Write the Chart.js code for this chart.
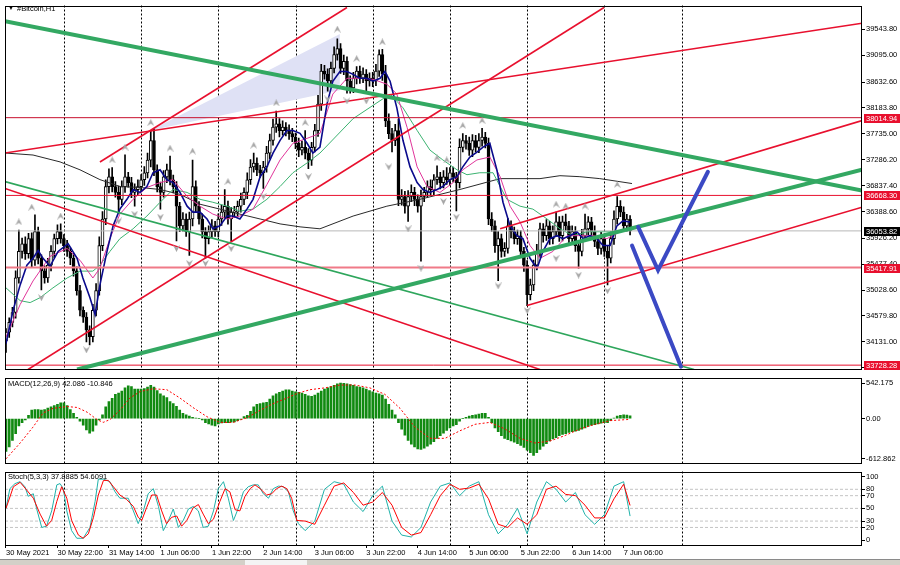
<!DOCTYPE html>
<html>
<head>
<meta charset="utf-8">
<script src="https://cdn.jsdelivr.net/npm/chart.js@4.4.1/dist/chart.umd.min.js"></script>
<style>
  body { margin: 0; background: #fff; width: 900px; height: 565px; overflow: hidden; position: relative;
         font-family: "Liberation Sans", Arial, sans-serif; }
  canvas { position: absolute; left: 0; }
  .ttl { position: absolute; font-size: 7.5px; line-height: 9px; color: #000; white-space: nowrap; }
  .strip { position: absolute; left: 0; top: 559px; width: 900px; height: 6px; background: #d4d0c8; border-top: 1px solid #8a8a8a; }
  .tab { position: absolute; left: 245px; top: 560px; width: 62px; height: 5px; background: #f4f4f4; }
</style>
</head>
<body>
<canvas id="main" width="900" height="375" style="top:0"></canvas>
<canvas id="macd" width="900" height="97" style="top:372px"></canvas>
<canvas id="stoch" width="900" height="92" style="top:466px"></canvas>
<div class="ttl" style="left:8px;top:4px;font-size:6px">▼</div>
<div class="ttl" style="left:17px;top:4px">#Bitcoin,H1</div>
<div class="ttl" style="left:8px;top:379px">MACD(12,26,9) 42.086 -10.846</div>
<div class="ttl" style="left:8px;top:472px">Stoch(5,3,3) 37.8885 54.6091</div>
<div class="strip"></div><div class="tab"></div>

<script>
// ---- bars: H1, 30 May 2021 06:00 is bar 0 ----
const timeLabels = ["30 May 2021", "30 May 22:00", "31 May 14:00", "1 Jun 06:00", "1 Jun 22:00", "2 Jun 14:00",
  "3 Jun 06:00", "3 Jun 22:00", "4 Jun 14:00", "5 Jun 06:00", "5 Jun 22:00", "6 Jun 14:00", "7 Jun 06:00"];
const labelIdx = [0, 16, 32, 48, 64, 80, 96, 112, 128, 144, 160, 176, 192];
const midnights = [18, 42, 66, 90, 114, 138, 162, 186, 210];

const firstOpen = 34150;
const closes = [
  34300,34470,34640,35240,35700,35830,35660,35920,35545,36040,
  35580,35360,35240,35460,35700,35920,36040,35920,35800,35700,
  35580,35360,35020,34680,34560,34340,34220,34680,35020,35800,
  36260,36820,36990,36820,36720,36600,36820,36990,36890,36720,
  36770,36820,36940,37060,37280,37620,37110,36820,36720,36990,
  37110,36940,36820,36480,36140,36260,36040,36260,36820,36480,
  36260,36040,35920,36040,36140,36040,36260,36380,36480,36260,
  36380,36380,36480,36600,36720,36940,37160,37230,37110,37060,
  37160,37400,37620,37850,37910,37790,37850,37790,37740,37680,
  37570,37450,37500,37400,37280,37500,37790,38250,38820,38770,
  38650,38870,39110,39210,38870,38990,38650,38530,38700,38820,
  38700,38770,38650,38700,38650,38820,39110,38770,37960,37740,
  37620,37790,36600,36650,36480,36650,36720,36600,36480,36650,
  36720,36820,36770,36940,36990,36890,36990,36940,37060,36990,
  36890,37500,37620,37570,37450,37620,37500,37620,37680,37570,
  36260,36140,35800,35920,35700,35750,36140,36040,35920,35970,
  35700,35460,34950,35120,35460,35700,36090,35970,36140,35920,
  36040,36210,35970,36210,36140,35920,36040,35800,35700,35970,
  36090,36210,36040,35870,35750,35920,35700,35580,35920,36260,
  36480,36380,36140,36260,36053.82];
// wick lengths above / below the body
const upWick = [
  60,80,90,120,370,100,120,90,100,290, 80,60,90,120,100,80,120,135,70,90,
  60,80,70,90,60,80,70,100,120,150, 130,120,140,160,90,110,100,380,80,90,
  100,120,90,110,120,170,200,90,80,110, 100,240,80,90,70,110,90,120,460,100,
  80,90,70,100,110,80,90,120,290,90, 80,100,90,110,80,120,130,170,90,80,
  100,120,110,140,220,90,110,80,100,90, 70,90,110,290,80,90,110,150,120,100,
  90,110,130,170,90,110,80,90,100,80, 90,110,80,90,100,120,80,90,150,120,
  90,110,200,120,90,100,130,90,80,110, 90,100,120,90,190,80,110,160,90,100,
  80,150,120,90,110,100,90,120,150,80, 90,110,90,120,80,100,130,90,80,100,
  90,70,80,100,90,120,100,90,110,80, 100,170,90,100,135,80,100,90,80,110,
  255,90,80,100,90,110,80,90,120,140, 170,100,90,80,60];
const dnWick = [
  200,90,80,100,90,120,100,80,110,90, 100,330,90,80,100,110,90,80,100,90,
  110,90,80,100,90,210,140,90,100,80, 90,100,110,90,80,240,90,100,80,90,
  240,90,80,100,90,120,100,90,290,80, 100,90,110,600,100,90,80,410,120,100,
  90,110,340,90,100,80,90,110,100,90, 375,90,80,100,90,110,80,90,100,80,
  270,90,100,80,90,110,80,90,100,80, 90,110,80,100,150,90,80,100,110,90,
  175,90,80,100,90,110,210,90,80,100, 90,80,210,90,100,80,90,110,100,90,
  200,90,110,100,120,260,90,110,100,950, 90,80,100,90,80,110,90,80,100,90,
  490,90,80,100,90,110,80,90,100,80, 100,90,120,610,100,90,80,110,90,100,
  90,110,190,90,100,80,90,110,80,100, 90,80,100,90,80,110,90,100,290,80,
  90,100,80,90,110,100,90,460,80,100, 90,80,100,90,70];

// moving averages: [bar, price]
const maBlue = [[0,34100],[2.2,34675],[4.4,35119],[6.5,35459],[8.4,35579],[10,35715],[11.5,35579],[13.7,35442],
  [16.2,35698],[19.3,35834],[22.1,35579],[23.9,35238],[26.1,34897],[27.7,34607],[29.2,35119],[31.4,35698],
  [33.3,36141],[35.4,36431],[37.6,36601],[39.5,36771],[41.7,36720],[43.8,36823],[45.7,37061],[47.9,37112],
  [50,36942],[51.9,36891],[54.1,36720],[56.3,36482],[58.1,36379],[60.3,36379],[62.5,36260],[64.3,36090],
  [66.5,36141],[68.7,36311],[70.6,36311],[72.7,36260],[74.9,36431],[76.8,36601],[79,36993],[81.1,37163],
  [83,37402],[85.2,37623],[87.3,37794],[89.2,37794],[91.4,37743],[93.6,37572],[95.4,37402],[97.6,37504],
  [99.8,38254],[101.6,38646],[103.8,38816],[106,38816],[107.9,38765],[110,38697],[112.2,38697],[114.1,38646],
  [116.3,38697],[117.8,38816],[119.4,38646],[121.5,38186],[123.4,37623],[125.6,37163],[127.8,36891],[129.6,36771],
  [131.8,36720],[134,36771],[135.8,36823],[138,36942],[140.2,36993],[142,37163],[144.2,37334],[146.4,37419],
  [148.3,37504],[150.4,37572],[152.6,37112],[154.5,36550],[156.7,36141],[158.8,35971],[160.7,35919],[162.9,35579],
  [165.1,35408],[166.9,35698],[169.1,35919],[171.3,35971],[173.1,35919],[175.3,35971],[177.5,36039],[179.4,35919],
  [181.5,35971],[183.7,35919],[185.6,35800],[187.8,35800],[189.9,36141],[191.8,36226],[194,36209]];
const maPink = [[0,34215],[4.4,34778],[8.4,35187],[13.7,35613],[19,35749],[23,35545],[27,35238],[29.2,35408],
  [32.3,35919],[35.4,36345],[39.5,36601],[43.8,36806],[47.9,36891],[51.9,36942],[56.3,36652],[60.3,36482],
  [64.3,36345],[68.7,36260],[72.7,36311],[76.8,36431],[81.1,36857],[85.2,37283],[89.2,37572],[93.6,37657],
  [97.6,37743],[101.6,38424],[106,38697],[110,38697],[114.1,38680],[118.4,38595],[121.5,38424],[124.7,37845],
  [127.8,37163],[130.9,36823],[134.9,36720],[139,36891],[142,37112],[146.4,37283],[150.4,37334],[153.6,36993],
  [156.7,36482],[159.8,36209],[162.9,35800],[166,35579],[170,35698],[174.4,35971],[178.4,35971],[182.5,35971],
  [186.8,35919],[190.9,36039],[194,36090]];
const maGreen = [[0,35067],[4.4,34846],[7.5,34812],[10.6,34897],[14.6,35067],[19,35238],[23,35357],[27,35357],
  [29.2,35459],[32.3,35698],[35.4,35919],[39.5,36090],[43.8,36311],[47.9,36550],[51.9,36771],[56.3,36720],
  [60.3,36601],[64.3,36550],[68.7,36482],[72.7,36396],[76.8,36431],[81.1,36601],[85.2,36823],[89.2,37061],
  [93.6,37231],[97.6,37402],[107.9,37998],[119.4,38424],[123.4,38186],[127.8,37794],[131.8,37453],[135.8,37283],
  [140.2,37112],[143.3,37027],[147.3,37061],[151.4,37061],[155.7,36601],[159.8,36482],[163.8,36431],[168.2,36260],
  [172.2,36090],[176.3,35971],[180.6,36039],[184.6,36039],[188.7,36039],[194,36090]];
const maBlack = [[0,37402],[8.4,37368],[16.8,37249],[23,37112],[29.2,36942],[35.4,36823],[41.7,36806],[47.9,36771],
  [54.1,36686],[60.3,36516],[66.5,36431],[72.7,36345],[79,36260],[85.2,36175],[91.4,36124],[97.6,36090],
  [107.9,36311],[118.4,36482],[128.7,36601],[141.1,36771],[153.6,36959],[166,36959],[172.2,37010],[178.4,36993],
  [184.6,36959],[194.6,36874]];

// fractals: [bar, price]
const fractalUp = [[4,36210],[8,36465],[17,36311],[33,37283],[37,37504],[45,37930],[51,37487],[58,37436],[69,36908],
  [77,37538],[84,38271],[93,37930],[103,39549],[109,39038],[117,39327],[134,37317],[137,37283],[142,37879],
  [148,37964],[171,36516],[174,36482],[180,36482],[190,36857]];
const fractalDn = [[11,34897],[25,33994],[35,36226],[40,36345],[48,36294],[53,35749],[57,35493],[62,35493],[70,35749],
  [80,36652],[94,36993],[100,38339],[106,38305],[112,38305],[119,37163],[125,36090],[129,35408],[136,36567],
  [140,36294],[153,35101],[162,34676],[171,35579],[178,35289],[187,35016]];

// drawn objects: [bar, price] end points
const greenThick = [[[-0.31,39685],[266.1,36754]], [[22.1,33653],[266.1,37112]]];
const greenThin = [[[-0.31,36908],[213.9,33653]]];
const redLines = [[[-0.31,36788],[166,33653]], [[6.84,33653],[185.9,39924]], [[29.2,37248],[106,39924]],
  [[-0.31,37402],[266.1,39651]], [[153.6,36090],[266.1,37964]], [[162,34761],[266.1,36465]]];
const blueArrows = [[[196.5,36124],[202.7,35374],[218.2,37078]], [[194.6,35800],[209.8,33704]]];
const shadeTop = [[44.8,37794],[103.8,39464]];
const shadeBottom = [[44.8,37794],[103.8,38492]];
const levelLines = [38014.94, 36668.30, 35417.91, 33728.28];
const bidLine = 36053.82;
const priceTicks = [39543.8, 39095.0, 38632.6, 38183.8, 37735.0, 37286.2, 36837.4, 36388.6, 35926.2,
  35477.4, 35028.6, 34579.8, 34131.0, 33682.2];

// MACD main (histogram) per bar, signal read as [bar, value]
const macdMain = [
  -500,-430,-330,-230,-110,-60,-20,50,130,140, 140,130,140,160,180,200,220,240,240,200,
  140,80,20,-40,-100,-170,-220,-190,-100,-20,
  60,180,260,310,370,390,420,470,500,490, 450,450,450,460,480,510,480,430,380,350,
  320,260,230,190,130,80,60,40,20,10, 0,-20,-60,-80,-100,-110,-80,-65,-60,-60,
  -55,-50,-30,-10,30,50,110,180,220,230, 240,250,300,350,380,400,420,440,440,420,
  410,400,
  390,370,350,340,360,390,420,450,470,490, 510,530,542,540,530,520,510,490,480,470,
  450,430,410,390,380,360,300,220,130,60, -60,-160,-250,-330,-390,-430,-460,-470,-450,-420,
  -390,-350,-300,-260,-220,-180,-140,-110,-90,-40, 0,20,40,50,60,70,80,80,20,-60,
  -140,-200,-260,-300,-320,-340,-360,-380,-410,-440, -480,-520,-560,-520,-470,-420,-380,-340,-310,-290,
  -260,-240,-230,-210,-200,-190,-180,-160,-140,-120, -100,-90,-80,-70,-60,-60,-30,10,40,50,
  60,55,42.086];
const macdSignal = [[0,-612.862],[4.4,-371],[8.4,-128],[11.5,86],[14.6,157],[19,185],[22.1,171],[25.2,100],
  [28.3,-14],[30.2,-57],[32.3,-14],[35.4,128],[38.5,314],[41.7,414],[45.7,456],[50,442],[54.1,314],[58.1,171],
  [62.5,29],[66.5,-57],[70.6,-57],[74.9,14],[79,128],[83,228],[87.3,314],[90.5,385],[94.5,442],[99.2,470],
  [103.8,513],[108.5,513],[113.1,470],[117.8,371],[122.5,157],[127.1,-128],[131.8,-300],[136.5,-300],
  [141.1,-185],[145.8,-86],[150.4,-57],[155.1,-157],[159.8,-300],[164.4,-371],[169.1,-342],[173.8,-257],
  [178.4,-157],[183.1,-86],[187.8,-30],[194,-10.846]];
const macdTicks = [542.175, 0, -612.862];
const macdTickText = ["542.175", "0.00", "-612.862"];

// Stochastic %K / %D as [bar, value]
const stochK = [[0,50],[1.2,81],[2.8,89],[4.4,92],[5.9,84],[6.9,69],[8.5,73],[9.5,50],[11.1,20],[12.6,22],[14.2,46],
  [15.8,87],[16.8,89],[17.8,81],[18.9,46],[20.4,15],[22,3],[24,3],[26.1,20],[27.7,61],[28.7,96],[30.3,96],[32.3,92],
  [33.9,76],[35.4,66],[38,66],[39.6,46],[41.1,26],[42.7,46],[44.2,73],[45.8,81],[47.4,53],[48.9,15],[50.5,31],
  [52,49],[53.6,20],[55.1,31],[56.7,49],[58.2,53],[59.8,46],[61.3,20],[62.9,22],[64.5,46],[66,81],[67.6,92],
  [69.1,66],[70.7,31],[72.2,50],[73.8,76],[75.3,84],[76.9,87],[78.4,87],[80,73],[81.6,66],[83.1,81],[84.7,85],
  [86.2,84],[87.8,76],[89.3,46],[90.9,26],[93,15],[96,30],[99,80],[102,92],[105,88],[108,60],[111,45],[114,70],
  [117,85],[120,30],[123,8],[126,5],[129,20],[132,60],[135,85],[138,90],[141,70],[144,85],[147,92],[150,40],
  [153,10],[156,25],[159,50],[162,10],[165,60],[168,92],[171,80],[174,60],[177,75],[180,40],[183,25],[186,40],
  [189,85],[192,92],[194,37.8885]];
const stochD = [[0,50],[2.3,84],[4.4,91],[6.4,79],[8.5,66],[10.6,41],[12.6,22],[14.2,31],[15.8,61],[17.3,84],
  [18.9,66],[20.4,31],[22.5,8],[24,3],[25.6,10],[27.2,36],[28.7,71],[30.3,94],[31.8,94],[33.4,84],[35.4,71],
  [37.5,64],[39.6,53],[41.1,36],[42.2,31],[43.7,51],[45.3,71],[46.8,71],[48.4,46],[49.9,26],[51.5,36],[53.1,38],
  [54.6,22],[56.2,31],[58.2,51],[59.8,56],[61.3,41],[62.9,26],[64.5,33],[66.5,61],[68.1,81],[69.6,76],[71.2,48],
  [72.7,46],[74.3,69],[75.9,81],[77.4,87],[79,81],[81,71],[82.6,73],[84.1,81],[85.7,85],[87.3,81],[88.8,66],
  [90.4,31],[93,30],[96,25],[99,55],[102,85],[105,90],[108,75],[111,55],[114,60],[117,75],[120,55],[123,20],
  [126,8],[129,12],[132,40],[135,70],[138,88],[141,80],[144,82],[147,88],[150,65],[153,25],[156,20],[159,35],
  [162,25],[165,40],[168,80],[171,85],[174,72],[177,70],[180,55],[183,35],[186,35],[189,65],[192,88],[194,54.6091]];
const stochLevels = [80, 70, 50, 30, 20];
const stochTicks = [100, 80, 70, 50, 30, 20, 0];

// ---------------------------------------------------------------
const xMin = -0.31, xMax = 266.1;
const FONT = '"Liberation Sans", Arial, sans-serif';
Chart.defaults.font.family = FONT;
Chart.defaults.font.size = 7.5;
Chart.defaults.color = "#000";

const opens = closes.map((c, i) => i === 0 ? firstOpen : closes[i - 1]);
const highs = closes.map((c, i) => Math.max(c, opens[i]) + upWick[i]);
const lows = closes.map((c, i) => Math.min(c, opens[i]) - dnWick[i]);
const pts = arr => arr.map(p => ({ x: p[0], y: p[1] }));

function line(points, color, width, order, extra) {
  return Object.assign({ type: "line", data: pts(points), borderColor: color, borderWidth: width,
    pointRadius: 0, fill: false, tension: 0, order: order }, extra || {});
}

function chevron(up) {
  const c = document.createElement("canvas");
  c.width = 7; c.height = 7;
  const g = c.getContext("2d");
  g.fillStyle = "#a6a6a6";
  g.beginPath();
  if (up) { g.moveTo(0, 7); g.lineTo(3.5, 0); g.lineTo(7, 7); g.lineTo(3.5, 4.5); }
  else { g.moveTo(0, 0); g.lineTo(3.5, 7); g.lineTo(7, 0); g.lineTo(3.5, 2.5); }
  g.closePath(); g.fill();
  return c;
}

// dotted day separators and the panel frame
const frame = {
  id: "frame",
  beforeDatasetsDraw(chart) {
    const { ctx, chartArea: a, scales: { x } } = chart;
    ctx.save();
    ctx.strokeStyle = "#000"; ctx.lineWidth = 1; ctx.setLineDash([2, 2]);
    midnights.forEach(i => {
      const px = Math.round(x.getPixelForValue(i)) + 0.5;
      ctx.beginPath(); ctx.moveTo(px, a.top); ctx.lineTo(px, a.bottom); ctx.stroke();
    });
    ctx.restore();
  },
  afterDraw(chart) {
    const { ctx, chartArea: a } = chart;
    ctx.save();
    ctx.strokeStyle = "#000"; ctx.lineWidth = 1;
    ctx.strokeRect(Math.round(a.left) + 0.5, Math.round(a.top) + 0.5, Math.round(a.width) - 1, Math.round(a.height) - 1);
    ctx.restore();
  }
};

// price boxes on the right axis
const markColors = ["#e8102e", "#e8102e", "#e8102e", "#e8102e"];
const priceBoxes = {
  id: "priceBoxes",
  afterDraw(chart) {
    const { ctx, chartArea: a, scales: { y } } = chart;
    ctx.save();
    ctx.font = "7.5px " + FONT; ctx.textBaseline = "middle";
    const box = (v, bg) => {
      const py = Math.round(y.getPixelForValue(v));
      ctx.fillStyle = bg; ctx.fillRect(a.right + 2, py - 4, 36, 9);
      ctx.fillStyle = "#fff"; ctx.fillText(v.toFixed(2), a.right + 4, py + 0.5);
    };
    levelLines.forEach((v, k) => box(v, markColors[k]));
    box(bidLine, "#000");
    ctx.restore();
  }
};

const common = (padTop, padBottom) => ({
  responsive: false, animation: false, devicePixelRatio: 1,
  layout: { padding: { left: 5, right: 0, top: padTop, bottom: padBottom } },
  plugins: { legend: { display: false }, tooltip: { enabled: false } },
  events: []
});

const yAxis = (min, max, ticks, fmt) => ({
  position: "right", min: min, max: max,
  afterFit(s) { s.width = 38; },
  afterBuildTicks(s) { s.ticks = ticks.map(v => ({ value: v })); },
  ticks: { color: "#000", padding: 1, autoSkip: false, callback: fmt, font: { size: 7.5 } },
  grid: { drawOnChartArea: false, tickLength: 3, color: "#000" },
  border: { display: false }
});

const hiddenX = { type: "linear", min: xMin, max: xMax, display: false, offset: false, grid: { offset: false } };

// ---------------- main price panel ----------------
const mainSets = [
  line(shadeTop, "rgba(0,0,0,0)", 0, 100, { fill: "+1", backgroundColor: "#dfe1f5" }),
  line(shadeBottom, "rgba(0,0,0,0)", 0, 101),
  { type: "bar", order: 70, grouped: false, barThickness: 1, backgroundColor: "#000", borderWidth: 0,
    data: closes.map((c, i) => ({ x: i, y: [lows[i], highs[i]] })) },
  { type: "bar", order: 60, grouped: false, barThickness: 3, borderColor: "#000", borderWidth: 1,
    borderSkipped: false, minBarLength: 1,
    backgroundColor: closes.map((c, i) => c >= opens[i] ? "#fff" : "#000"),
    data: closes.map((c, i) => ({ x: i, y: [opens[i], c] })) },
  line(maBlack, "#2a2a2a", 1, 55),
  line(maGreen, "#3cb371", 1, 54),
  line(maPink, "#e0359a", 1, 53),
  line(maBlue, "#0a0a8c", 1.6, 52),
  line([[xMin, levelLines[0]], [xMax, levelLines[0]]], "#c8102e", 1, 45),
  line([[xMin, levelLines[1]], [xMax, levelLines[1]]], "#e8102e", 1, 45),
  line([[xMin, levelLines[2]], [xMax, levelLines[2]]], "#f07a88", 2, 45),
  line([[xMin, levelLines[3]], [xMax, levelLines[3]]], "#e8102e", 1, 45),
  line([[xMin, bidLine], [xMax, bidLine]], "#b8b8b8", 1, 46),
  ...redLines.map(l => line(l, "#e8102e", 1.6, 30)),
  ...greenThin.map(l => line(l, "#2ea65c", 1.6, 25)),
  ...greenThick.map(l => line(l, "#33a862", 4, 20)),
  ...blueArrows.map(l => line(l, "#3b49c4", 4, 10, { borderCapStyle: "round", borderJoinStyle: "miter" })),
  line(fractalUp, "#a6a6a6", 0, 5, { showLine: false, pointRadius: 4, pointStyle: chevron(true) }),
  line(fractalDn, "#a6a6a6", 0, 5, { showLine: false, pointRadius: 4, pointStyle: chevron(false) })
];

new Chart(document.getElementById("main"), {
  type: "bar",
  data: { datasets: mainSets },
  options: Object.assign(common(3, 2), {
    scales: { x: hiddenX, y: yAxis(33653, 39958, priceTicks, v => Number(v).toFixed(2)) }
  }),
  plugins: [frame, priceBoxes]
});

// ---------------- MACD panel ----------------
new Chart(document.getElementById("macd"), {
  type: "bar",
  data: { datasets: [
    line(macdSignal, "#ff0000", 1, 1, { borderDash: [2, 2] }),
    { type: "bar", order: 2, barThickness: 2, backgroundColor: "#118a11", borderWidth: 0,
      data: macdMain.map((v, i) => ({ x: i, y: v })) }
  ] },
  options: Object.assign(common(3, 2), {
    scales: { x: hiddenX, y: yAxis(-684, 628, macdTicks, (v, k) => macdTickText[k]) }
  }),
  plugins: [frame]
});

// ---------------- Stochastic panel ----------------
new Chart(document.getElementById("stoch"), {
  type: "line",
  data: { datasets: [
    ...stochLevels.map(v => line([[xMin, v], [xMax, v]], "#c4c4c4", 1, 10, { borderDash: [3, 2] })),
    line(stochK, "#20b2aa", 1, 2),
    line(stochD, "#ff0000", 1, 1)
  ] },
  options: Object.assign(common(3, 0), {
    scales: {
      x: { type: "linear", min: xMin, max: xMax, position: "bottom", offset: false,
        afterFit(s) { s.height = 13; },
        afterBuildTicks(s) { s.ticks = labelIdx.map(v => ({ value: v })); },
        ticks: { color: "#000", align: "start", maxRotation: 0, autoSkip: false, padding: 0,
          font: { size: 7.5 }, callback: (v, k) => timeLabels[k] },
        grid: { drawOnChartArea: false, tickLength: 3, color: "#000" },
        border: { display: false } },
      y: yAxis(-7.6, 108, stochTicks, v => String(v))
    }
  }),
  plugins: [frame]
});
</script>
</body>
</html>
